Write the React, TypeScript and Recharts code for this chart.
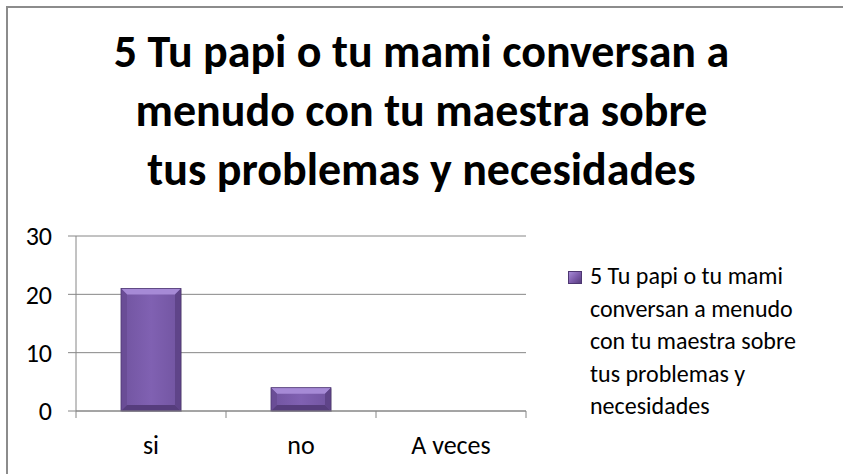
import { Bar, BarChart, CartesianGrid, Legend, XAxis, YAxis } from 'recharts';

const categories = ['si', 'no', 'A veces'];
const values = [21, 4, 0];
const yTicks = [0, 10, 20, 30];
const seriesName =
  '5 Tu papi o tu mami conversan a menudo con tu maestra sobre tus problemas y necesidades';
const titleLines = [
  '5 Tu papi o tu mami conversan a',
  'menudo con tu maestra sobre',
  'tus problemas y necesidades',
];

const data = categories.map((c, i) => ({ name: c, value: values[i] }));

const FONT = 'Calibri, Carlito, Lato, sans-serif';
const PLOT_LEFT = 76;
const PLOT_RIGHT = 526;
const BAND = (PLOT_RIGHT - PLOT_LEFT) / categories.length;
const AXIS = '#868686';

function BevelBar(props: any) {
  const { x, y, width, height } = props;
  if (!height || height <= 0) return null;
  const b = Math.min(6, height / 2, width / 2);
  const r = x + width;
  const btm = y + height;
  return (
    <g>
      <rect x={x + 1} y={y + 1} width={width} height={height} fill="#000" opacity={0.12} />
      <rect x={x} y={y} width={width} height={height} fill="url(#barBody)" />
      <polygon points={`${x},${y} ${r},${y} ${r - b},${y + b} ${x + b},${y + b}`} fill="#a68ad6" />
      <polygon points={`${x},${y} ${x + b},${y + b} ${x + b},${btm - b} ${x},${btm}`} fill="#6a4d96" />
      <polygon points={`${r},${y} ${r - b},${y + b} ${r - b},${btm - b} ${r},${btm}`} fill="#5f4489" />
      <polygon points={`${x},${btm} ${x + b},${btm - b} ${r - b},${btm - b} ${r},${btm}`} fill="#563d7d" />
      <rect x={x} y={y} width={width} height={height} fill="none" stroke="#4e3772" strokeWidth={0.8} />
    </g>
  );
}

function CategoryTick(props: any) {
  const { x, y, payload, index } = props;
  const axisY = 411;
  const left = x - BAND / 2;
  return (
    <g>
      <line x1={left} y1={axisY} x2={left} y2={axisY + 7} stroke={AXIS} />
      {index === categories.length - 1 && (
        <line x1={x + BAND / 2} y1={axisY} x2={x + BAND / 2} y2={axisY + 7} stroke={AXIS} />
      )}
      <text x={x} y={y} dy="0.71em" textAnchor="middle" fill="#000" fontSize={26} fontFamily={FONT}>
        {payload.value}
      </text>
    </g>
  );
}

function LegendBox() {
  return (
    <div style={{ position: 'relative', fontFamily: FONT, fontSize: 24, lineHeight: '32.5px', color: '#000', textAlign: 'left' }}>
      <div
        style={{
          position: 'absolute',
          left: 2,
          top: 11,
          width: 14,
          height: 13,
          background: 'linear-gradient(135deg, #a68ad6 0%, #7b5aa9 55%, #563d7d 100%)',
          border: '1px solid #4e3772',
          boxSizing: 'border-box',
        }}
      />
      <div style={{ marginLeft: 24, width: 240 }}>{seriesName}</div>
    </div>
  );
}

export default function App() {
  return (
    <div style={{ position: 'absolute', left: 0, top: 0, width: 843, height: 474, background: '#fff', overflow: 'hidden' }}>
      <div
        style={{
          position: 'absolute',
          left: 6,
          top: 6,
          width: 843,
          height: 480,
          border: '2px solid #8c8c8c',
          boxSizing: 'border-box',
        }}
      />
      <div
        style={{
          position: 'absolute',
          left: 0,
          top: 22,
          width: 843,
          textAlign: 'center',
          fontFamily: FONT,
          fontWeight: 700,
          fontSize: 46,
          lineHeight: '59px',
          color: '#000',
        }}
      >
        {titleLines.map((l) => (
          <div key={l}>{l}</div>
        ))}
      </div>
      <BarChart
        width={843}
        height={474}
        data={data}
        margin={{ top: 236, right: 843 - PLOT_RIGHT, left: 16, bottom: 23 }}
        style={{ position: 'absolute', left: 0, top: 0 }}
      >
        <defs>
          <linearGradient id="barBody" x1="0" y1="0" x2="1" y2="0">
            <stop offset="0%" stopColor="#7154a0" />
            <stop offset="50%" stopColor="#8061b2" />
            <stop offset="100%" stopColor="#7154a0" />
          </linearGradient>
        </defs>
        <CartesianGrid vertical={false} stroke={AXIS} />
        <XAxis
          dataKey="name"
          height={40}
          axisLine={{ stroke: AXIS }}
          tickLine={false}
          tickMargin={19}
          tick={<CategoryTick />}
          interval={0}
        />
        <YAxis
          width={60}
          domain={[0, 30]}
          ticks={yTicks}
          axisLine={{ stroke: AXIS }}
          tickLine={{ stroke: AXIS }}
          tickSize={8}
          tickMargin={16}
          tick={{ fill: '#000', fontSize: 26, fontFamily: FONT }}
        />
        <Legend
          content={<LegendBox />}
          layout="vertical"
          verticalAlign="middle"
          align="center"
          wrapperStyle={{ position: 'absolute', left: 566, top: 260, width: 270 }}
        />
        <Bar dataKey="value" name={seriesName} barSize={60} shape={<BevelBar />} isAnimationActive={false} />
      </BarChart>
    </div>
  );
}
